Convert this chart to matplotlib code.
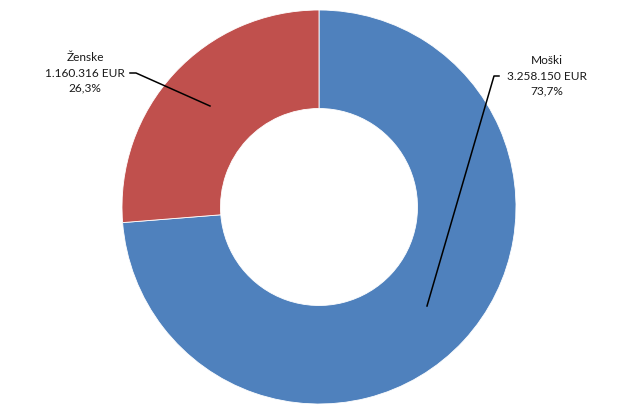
import matplotlib
matplotlib.use("Agg")
import matplotlib.pyplot as plt

categories = ["Moški", "Ženske"]
values = [3258150, 1160316]
value_labels = ["3.258.150 EUR", "1.160.316 EUR"]
pct_labels = ["73,7%", "26,3%"]
colors = ["#4F81BD", "#C0504D"]

W, H = 641, 417
fig = plt.figure(figsize=(W / 100, H / 100), dpi=100)
ax = fig.add_axes([0, 0, 1, 1])

cx, cy = 319, H - 207
R = 197
ax.pie(values, colors=colors, startangle=90, counterclock=False,
       center=(cx, cy), radius=R, frame=True,
       wedgeprops=dict(width=R * 0.5, edgecolor="white", linewidth=0.6))
ax.set_xlim(0, W)
ax.set_ylim(0, H)
ax.set_aspect("equal")
ax.axis("off")

font = dict(family=["Lato", "DejaVu Sans"], fontsize=8.6, color="#1a1a1a",
            ha="center", va="center", linespacing=1.45)

# Moški label
ax.text(547, H - 76, f"{categories[0]}\n{value_labels[0]}\n{pct_labels[0]}", **font)
ax.plot([499, 494, 427], [H - 76, H - 76, H - 306], color="black", lw=1.1)

# Ženske label
ax.text(85, H - 73, f"{categories[1]}\n{value_labels[1]}\n{pct_labels[1]}", **font)
ax.plot([130, 136, 210], [H - 73, H - 73, H - 106], color="black", lw=1.1)

fig.savefig("out.png", dpi=100, facecolor="white")
